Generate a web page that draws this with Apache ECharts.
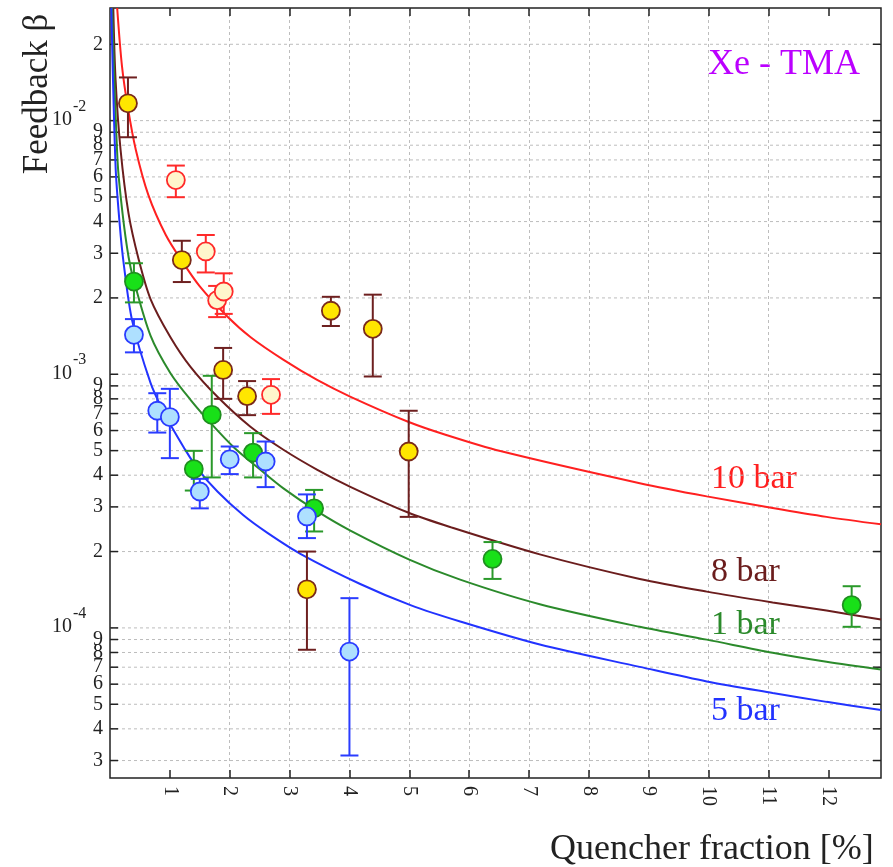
<!DOCTYPE html>
<html>
<head>
<meta charset="utf-8">
<title>Feedback vs quencher fraction, Xe - TMA</title>
<script src="https://cdn.jsdelivr.net/npm/echarts@6.0.0/dist/echarts.min.js"></script>
<style>
  html, body { margin: 0; padding: 0; background: #fff; }
  #chart { width: 893px; height: 867px; }
</style>
</head>
<body>
<div id="chart"></div>
<script>
// axis ranges and ticks
var xMin = 0, xMax = 12.88
var yMin = 2.56e-5, yMax = 2.78e-2
var xTickValues = [1, 2, 3, 4, 5, 6, 7, 8, 9, 10, 11, 12]
var xTickLabels = ['1', '2', '3', '4', '5', '6', '7', '8', '9', '10', '11', '12']
var yTickValues = [
  3e-5, 4e-5, 5e-5, 6e-5, 7e-5, 8e-5, 9e-5,
  1e-4, 2e-4, 3e-4, 4e-4, 5e-4, 6e-4, 7e-4, 8e-4, 9e-4,
  1e-3, 2e-3, 3e-3, 4e-3, 5e-3, 6e-3, 7e-3, 8e-3, 9e-3,
  1e-2, 2e-2
]
var yTickLabels = [
  '3', '4', '5', '6', '7', '8', '9',
  '10^-4', '2', '3', '4', '5', '6', '7', '8', '9',
  '10^-3', '2', '3', '4', '5', '6', '7', '8', '9',
  '10^-2', '2'
]

// fitted curves: [quencher %, beta]
var curve10bar = [
  [0.12, 2.78e-2], [0.2, 1.64e-2], [0.3, 1.12e-2], [0.43, 7.7e-3], [0.64, 5.1e-3],
  [0.93, 3.55e-3], [1.2, 2.8e-3], [1.5, 2.22e-3], [1.96, 1.69e-3], [2.35, 1.40e-3],
  [2.9, 1.14e-3], [3.46, 9.5e-4], [4.02, 8.15e-4], [4.98, 6.5e-4], [5.63, 5.75e-4],
  [6.52, 4.98e-4], [8.85, 3.72e-4], [9.97, 3.3e-4], [11.07, 2.97e-4], [11.97, 2.74e-4],
  [12.88, 2.56e-4]
]
var curve8bar = [
  [0.055, 2.78e-2], [0.093, 1.45e-2], [0.177, 7.66e-3], [0.31, 4.3e-3], [0.477, 2.85e-3],
  [0.677, 1.98e-3], [1.01, 1.40e-3], [1.345, 1.07e-3], [1.795, 8.15e-4], [2.346, 6.21e-4],
  [2.897, 5.04e-4], [3.464, 4.2e-4], [4.015, 3.6e-4], [4.98, 2.85e-4], [5.68, 2.5e-4],
  [7.18, 1.95e-4], [8.85, 1.56e-4], [9.97, 1.39e-4], [11.07, 1.26e-4], [11.97, 1.17e-4],
  [12.88, 1.08e-4]
]
var curve1bar = [
  [0.035, 2.78e-2], [0.127, 6.9e-3], [0.21, 4.3e-3], [0.31, 2.9e-3], [0.394, 2.36e-3],
  [0.677, 1.42e-3], [1.01, 1.01e-3], [1.345, 7.93e-4], [1.679, 6.43e-4], [2.062, 5.17e-4],
  [2.513, 4.2e-4], [2.897, 3.55e-4], [3.464, 2.88e-4], [4.015, 2.42e-4], [5.0, 1.86e-4],
  [5.85, 1.55e-4], [7.18, 1.24e-4], [8.85, 1.01e-4], [9.97, 8.99e-5], [11.07, 7.98e-5],
  [11.97, 7.35e-5], [12.88, 6.85e-5]
]
var curve5bar = [
  [0.022, 2.78e-2], [0.093, 6.6e-3], [0.16, 3.95e-3], [0.227, 2.75e-3], [0.372, 1.62e-3],
  [0.677, 9.25e-4], [0.894, 7.1e-4], [1.01, 6.32e-4], [1.228, 5.17e-4], [1.462, 4.25e-4],
  [1.795, 3.45e-4], [2.229, 2.78e-4], [2.63, 2.37e-4], [3.18, 1.96e-4], [4.18, 1.49e-4],
  [5.02, 1.23e-4], [5.85, 1.06e-4], [7.18, 8.6e-5], [8.85, 7.02e-5], [9.97, 6.15e-5],
  [11.07, 5.54e-5], [11.97, 5.11e-5], [12.88, 4.75e-5]
]

// measurements: [quencher %, beta, beta low, beta high]
var yellowPoints = [
  [0.30, 1.17e-2, 8.6e-3, 1.48e-2],
  [1.20, 2.82e-3, 2.31e-3, 3.36e-3],
  [1.89, 1.04e-3, 8.0e-4, 1.27e-3],
  [2.29, 8.2e-4, 6.9e-4, 9.4e-4],
  [3.69, 1.78e-3, 1.55e-3, 2.02e-3],
  [4.39, 1.51e-3, 9.8e-4, 2.06e-3],
  [4.99, 4.96e-4, 2.74e-4, 7.18e-4],
  [3.29, 1.42e-4, 8.2e-5, 2.0e-4]
]
var openPoints = [
  [1.10, 5.83e-3, 4.99e-3, 6.65e-3],
  [1.60, 3.05e-3, 2.52e-3, 3.54e-3],
  [1.79, 1.96e-3, 1.68e-3, 2.23e-3],
  [1.90, 2.12e-3, 1.73e-3, 2.50e-3],
  [2.69, 8.3e-4, 6.98e-4, 9.57e-4]
]
var greenPoints = [
  [0.40, 2.32e-3, 1.92e-3, 2.74e-3],
  [1.70, 6.92e-4, 3.92e-4, 9.86e-4],
  [1.40, 4.23e-4, 3.48e-4, 4.99e-4],
  [2.39, 4.91e-4, 3.92e-4, 5.86e-4],
  [3.41, 2.96e-4, 2.40e-4, 3.50e-4],
  [6.39, 1.87e-4, 1.56e-4, 2.18e-4],
  [12.39, 1.23e-4, 1.01e-4, 1.46e-4]
]
var bluePoints = [
  [0.40, 1.43e-3, 1.22e-3, 1.65e-3],
  [0.79, 7.18e-4, 5.89e-4, 8.42e-4],
  [1.00, 6.78e-4, 4.67e-4, 8.76e-4],
  [1.50, 3.45e-4, 2.96e-4, 3.87e-4],
  [2.00, 4.62e-4, 4.04e-4, 5.19e-4],
  [2.60, 4.53e-4, 3.59e-4, 5.43e-4],
  [3.29, 2.75e-4, 2.26e-4, 3.36e-4],
  [4.00, 8.07e-5, 3.14e-5, 1.31e-4]
]

var serif = "'Liberation Serif', 'DejaVu Serif', 'Times New Roman', serif"
var ink = '#222'
var gridColor = '#bdbdbd'

// y grid lines, mirrored ticks and the 2..9 / 10^n labels of the log axis
function yGridItem(params, api) {
  var idx = params.dataIndex
  var cs = params.coordSys
  var y = api.coord([0, api.value(1)])[1]
  var left = cs.x
  var right = cs.x + cs.width
  var label = yTickLabels[idx]
  var kids = [
    { type: 'line', shape: { x1: left, y1: y, x2: right, y2: y }, style: { stroke: gridColor, lineWidth: 1, lineDash: [3, 3] } },
    { type: 'line', shape: { x1: left, y1: y, x2: left + 8, y2: y }, style: { stroke: ink, lineWidth: 1.5 } },
    { type: 'line', shape: { x1: right - 8, y1: y, x2: right, y2: y }, style: { stroke: ink, lineWidth: 1.5 } }
  ]
  if (label.indexOf('^') > 0) {
    var parts = label.split('^')
    kids.push({ type: 'text', x: left - 38, y: y - 1, style: { text: parts[0], fontFamily: serif, fontSize: 20, fill: ink, align: 'right', verticalAlign: 'middle' } })
    kids.push({ type: 'text', x: left - 37, y: y - 14, style: { text: parts[1], fontFamily: serif, fontSize: 16, fill: ink, align: 'left', verticalAlign: 'middle' } })
  } else {
    kids.push({ type: 'text', x: left - 7, y: y, style: { text: label, fontFamily: serif, fontSize: 20, fill: ink, align: 'right', verticalAlign: 'middle' } })
  }
  return { type: 'group', children: kids }
}

function errorBars(color) {
  return function (params, api) {
    var x = api.value(0)
    var lo = api.coord([x, api.value(1)])
    var hi = api.coord([x, api.value(2)])
    var w = 9
    var st = { stroke: color, lineWidth: 2 }
    return {
      type: 'group',
      children: [
        { type: 'line', shape: { x1: lo[0], y1: lo[1], x2: hi[0], y2: hi[1] }, style: st },
        { type: 'line', shape: { x1: lo[0] - w, y1: lo[1], x2: lo[0] + w, y2: lo[1] }, style: st },
        { type: 'line', shape: { x1: hi[0] - w, y1: hi[1], x2: hi[0] + w, y2: hi[1] }, style: st }
      ]
    }
  }
}

function curveSeries(data, color) {
  return {
    type: 'line',
    data: data,
    showSymbol: false,
    smooth: 0.3,
    z: 2,
    lineStyle: { color: color, width: 2 },
    silent: true
  }
}

function pointSeries(pts, fill, edge, barColor) {
  return [
    {
      type: 'custom',
      renderItem: errorBars(barColor),
      data: pts.map(function (p) { return [p[0], p[2], p[3]] }),
      encode: { x: 0, y: [1, 2] },
      z: 3,
      silent: true
    },
    {
      type: 'scatter',
      data: pts.map(function (p) { return [p[0], p[1]] }),
      symbol: 'circle',
      symbolSize: 18,
      z: 3,
      itemStyle: { color: fill, borderColor: edge, borderWidth: 1.8, opacity: 1 },
      silent: true
    }
  ]
}

function curveLabel(text, x, y, color, size) {
  return { type: 'text', x: x, y: y, style: { text: text, fontFamily: serif, fontSize: size, fill: color, align: 'left', verticalAlign: 'middle' } }
}

var chart = echarts.init(document.getElementById('chart'), null, { renderer: 'canvas' })

var series = [
  {
    type: 'custom',
    renderItem: yGridItem,
    data: yTickValues.map(function (v) { return [0, v] }),
    encode: { x: 0, y: 1 },
    z: 1,
    silent: true
  },
  curveSeries(curve10bar, '#ff2020'),
  curveSeries(curve8bar, '#6b1d1d'),
  curveSeries(curve1bar, '#2b8a2b'),
  curveSeries(curve5bar, '#2233ff')
]
series = series
  .concat(pointSeries(yellowPoints, '#ffe600', '#7a2a1a', '#6e2020'))
  .concat(pointSeries(openPoints, '#fff6cc', '#ff2a2a', '#ff2a2a'))
  .concat(pointSeries(greenPoints, '#18e018', '#1f8f1f', '#2a992a'))
  .concat(pointSeries(bluePoints, '#aee0ff', '#2a3cff', '#2a3cff'))

chart.setOption({
  animation: false,
  backgroundColor: '#fff',
  grid: {
    left: 110,
    top: 8,
    right: 12,
    bottom: 89,
    show: true,
    borderColor: ink,
    borderWidth: 1.5,
    backgroundColor: 'transparent'
  },
  xAxis: [
    {
      type: 'value',
      position: 'bottom',
      min: xMin,
      max: xMax,
      interval: 1,
      axisLine: { show: false },
      axisTick: { show: true, inside: true, length: 8, customValues: xTickValues, lineStyle: { color: ink, width: 1.5 } },
      axisLabel: {
        show: true,
        customValues: xTickValues,
        rotate: -90,
        margin: 8,
        fontFamily: serif,
        fontSize: 20,
        color: ink,
        formatter: function (v) {
          var i = xTickValues.indexOf(v)
          return i >= 0 ? xTickLabels[i] : ''
        }
      },
      splitLine: { show: true, showMinLine: false, showMaxLine: false, lineStyle: { color: gridColor, width: 1, type: [3, 3] } }
    },
    {
      type: 'value',
      position: 'top',
      min: xMin,
      max: xMax,
      interval: 1,
      axisLine: { show: false },
      axisTick: { show: true, inside: true, length: 8, customValues: xTickValues, lineStyle: { color: ink, width: 1.5 } },
      axisLabel: { show: false },
      splitLine: { show: false }
    }
  ],
  yAxis: {
    type: 'log',
    logBase: 10,
    min: yMin,
    max: yMax,
    axisLine: { show: false },
    axisTick: { show: false },
    axisLabel: { show: false },
    splitLine: { show: false }
  },
  graphic: [
    { type: 'text', x: 38, y: 94, rotation: Math.PI / 2, style: { text: 'Feedback β', fontFamily: serif, fontSize: 35, fill: ink, align: 'center', verticalAlign: 'middle' } },
    { type: 'text', x: 550, y: 850, style: { text: 'Quencher fraction [%]', fontFamily: serif, fontSize: 36, fill: ink, align: 'left', verticalAlign: 'middle' } },
    curveLabel('Xe - TMA', 708, 65, '#bb00ff', 36),
    curveLabel('10 bar', 711, 479, '#ff2020', 34),
    curveLabel('8 bar', 711, 572, '#6b1d1d', 34),
    curveLabel('1 bar', 711, 625, '#2b8a2b', 34),
    curveLabel('5 bar', 711, 711, '#2233ff', 34)
  ],
  series: series
})
</script>
</body>
</html>
